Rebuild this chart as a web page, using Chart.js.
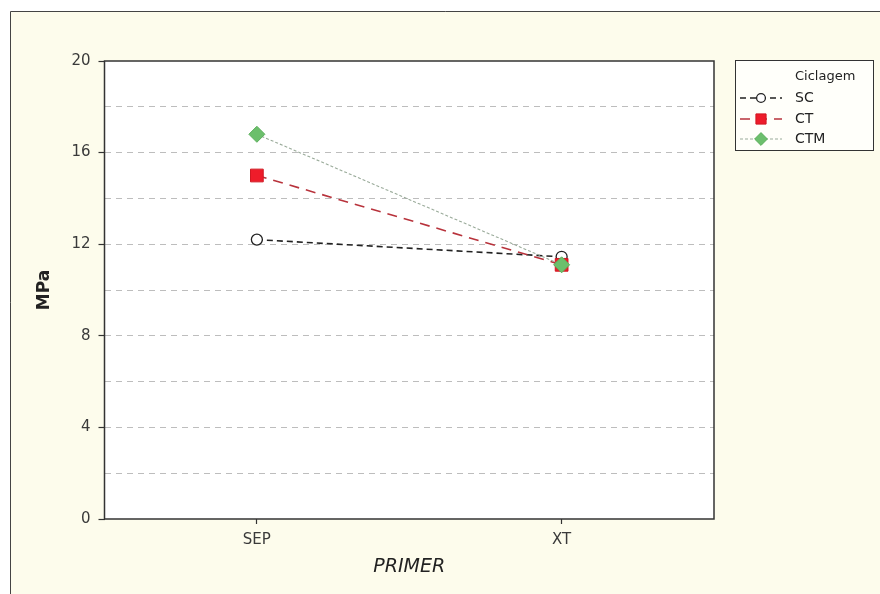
<!DOCTYPE html>
<html><head><meta charset="utf-8">
<script src="https://cdn.jsdelivr.net/npm/chart.js@4/dist/chart.umd.min.js"></script>
<style>html,body{margin:0;padding:0;background:#fff;}#wrap{position:absolute;left:0;top:0;width:880px;height:594px;}</style>
</head><body><div id="wrap"><canvas id="c" width="880" height="594"></canvas></div>
<script>
const categories = ['SEP', 'XT'];
const seriesNames = ['SC', 'CT', 'CTM'];
const scValues = [12.2, 11.45];
const ctValues = [15.0, 11.1];
const ctmValues = [16.8, 11.1];
const yMin = 0, yMax = 20, yStep = 2, yLabelEvery = 4;
const legendTitle = 'Ciclagem';
const xTitle = 'PRIMER';
const yTitle = 'MPa';

const FONT = "'DejaVu Sans', Verdana, sans-serif";

const framePlugin = {
  id: 'frame',
  beforeDraw(chart) {
    const ctx = chart.ctx;
    ctx.save();
    ctx.fillStyle = '#ffffff';
    ctx.fillRect(0, 0, chart.width, chart.height);
    ctx.fillStyle = '#fdfcec';
    ctx.fillRect(10, 11, chart.width - 10, chart.height - 11);
    ctx.strokeStyle = '#444';
    ctx.lineWidth = 1;
    ctx.beginPath();
    ctx.moveTo(10.5, chart.height);
    ctx.lineTo(10.5, 11.5);
    ctx.lineTo(chart.width, 11.5);
    ctx.stroke();
    const a = chart.chartArea;
    ctx.fillStyle = '#ffffff';
    ctx.fillRect(a.left, a.top, a.right - a.left, a.bottom - a.top);
    ctx.restore();
  },
  beforeDatasetsDraw(chart) {
    const ctx = chart.ctx, a = chart.chartArea;
    ctx.save();
    ctx.strokeStyle = '#333';
    ctx.lineWidth = 1.5;
    ctx.strokeRect(a.left, a.top, a.right - a.left, a.bottom - a.top);
    ctx.restore();
  },
  afterDraw(chart) {
    const ctx = chart.ctx;
    ctx.save();
    const bx = 735.5, by = 60.5, bw = 138, bh = 90;
    ctx.fillStyle = '#fffffa';
    ctx.fillRect(bx, by, bw, bh);
    ctx.strokeStyle = '#333';
    ctx.lineWidth = 1;
    ctx.strokeRect(bx, by, bw, bh);
    ctx.fillStyle = '#222';
    ctx.font = "13px " + FONT;
    ctx.textBaseline = 'middle';
    ctx.textAlign = 'left';
    ctx.fillText(legendTitle, 795, 77);
    ctx.font = "14px " + FONT;
    const ds = chart.data.datasets;
    const rows = [98, 119, 139];
    ds.forEach((d, i) => {
      const y = rows[i];
      ctx.save();
      ctx.strokeStyle = d.borderColor;
      ctx.lineWidth = d.borderWidth;
      ctx.setLineDash(d.borderDash || []);
      ctx.beginPath();
      ctx.moveTo(740, y);
      ctx.lineTo(782, y);
      ctx.stroke();
      ctx.setLineDash([]);
      ctx.fillStyle = d.pointBackgroundColor;
      ctx.strokeStyle = d.pointBorderColor;
      ctx.lineWidth = d.pointBorderWidth;
      Chart.helpers.drawPoint(ctx, {pointStyle: d.pointStyle, radius: d.pointRadius * 0.8, rotation: 0, borderWidth: d.pointBorderWidth}, 761, y);
      ctx.restore();
      ctx.fillStyle = '#222';
      ctx.fillText(d.label, 795, y);
    });
    ctx.restore();
  }
};

new Chart(document.getElementById('c'), {
  type: 'line',
  data: {
    labels: categories,
    datasets: [
      {
        label: seriesNames[0], data: scValues, order: 2,
        borderColor: '#222', borderWidth: 1.6, borderDash: [6, 4],
        pointStyle: 'circle', pointRadius: 5.5,
        pointBackgroundColor: '#ffffff', pointBorderColor: '#222', pointBorderWidth: 1.3,
        tension: 0
      },
      {
        label: seriesNames[1], data: ctValues, order: 1,
        borderColor: '#b8333c', borderWidth: 1.6, borderDash: [10, 7],
        pointStyle: 'rect', pointRadius: 9,
        pointBackgroundColor: '#ee1c2a', pointBorderColor: '#d01822', pointBorderWidth: 1,
        tension: 0
      },
      {
        label: seriesNames[2], data: ctmValues, order: 0,
        borderColor: '#9aab9a', borderWidth: 1.1, borderDash: [3, 2],
        pointStyle: 'rectRot', pointRadius: 8,
        pointBackgroundColor: '#6cbf6c', pointBorderColor: '#5cb05c', pointBorderWidth: 1,
        tension: 0
      }
    ]
  },
  options: {
    responsive: false,
    animation: false,
    devicePixelRatio: 1,
    layout: { padding: { left: 0, top: 61, right: 166, bottom: 0 } },
    plugins: { legend: { display: false }, tooltip: { enabled: false } },
    scales: {
      x: {
        type: 'category',
        offset: true,
        afterFit(s) { s.height = 75; },
        grid: { drawOnChartArea: false, color: 'transparent', tickColor: '#333', tickLength: 5, tickWidth: 1.2 },
        border: { display: false },
        ticks: { color: '#3a3a3a', font: { family: FONT, size: 15 }, padding: 7 },
        title: { display: true, text: xTitle, color: '#222', font: { family: FONT, size: 19, style: 'italic' }, padding: { top: 0, bottom: 16 } }
      },
      y: {
        min: yMin, max: yMax,
        afterFit(s) { s.width = 104.5; },
        ticks: {
          stepSize: yStep, color: '#3a3a3a', font: { family: FONT, size: 15 }, padding: 8,
          callback: (v) => (v % yLabelEvery === 0 ? String(v) : '')
        },
        grid: {
          color: (c) => (c.tick && (c.tick.value === yMin || c.tick.value === yMax)) ? 'transparent' : '#bdbdbd',
          lineWidth: 1,
          tickColor: (c) => (c.tick && c.tick.value % yLabelEvery === 0) ? '#333' : 'transparent',
          tickLength: 6, tickWidth: 1.2, tickBorderDash: []
        },
        border: { display: false, dash: [6, 5] },
        title: { display: true, text: yTitle, color: '#222', font: { family: FONT, size: 17, weight: 'bold' }, padding: { top: 34, bottom: 0 } }
      }
    }
  },
  plugins: [framePlugin]
});
</script>
</body></html>
